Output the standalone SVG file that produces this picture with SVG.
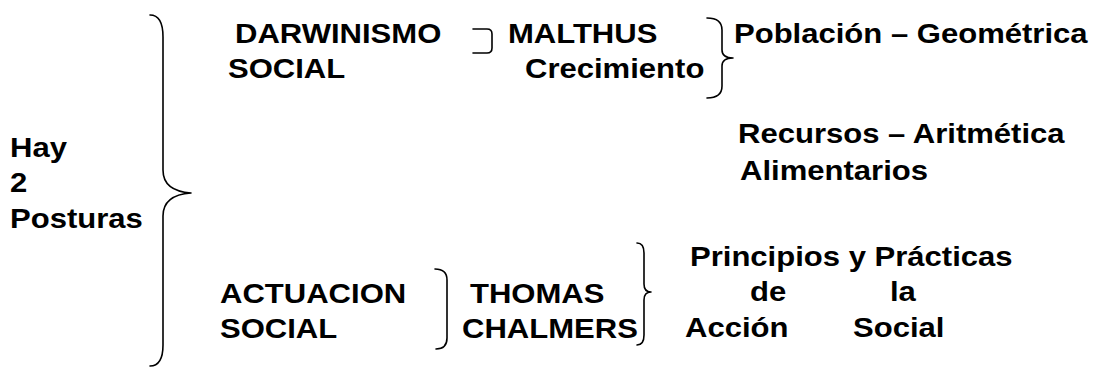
<svg xmlns="http://www.w3.org/2000/svg" width="1100" height="367" viewBox="0 0 1100 367">
<style>
.t{font-family:"Liberation Sans",Arial,sans-serif;font-weight:bold;font-size:27px;fill:#000}
.b{fill:none;stroke:#000;stroke-width:1.6;stroke-linecap:round;stroke-linejoin:round}
</style>
<rect width="1100" height="367" fill="#fff"/>
<g id="postura">
<text class="t" transform="translate(10,157) scale(1.15,1)">Hay</text>
<text class="t" transform="translate(10,192) scale(1.15,1)">2</text>
<text class="t" transform="translate(10,228) scale(1.15,1)">Posturas</text>
</g>
<g id="darwinismo">
<text class="t" transform="translate(235,43) scale(1.15,1)">DARWINISMO</text>
<text class="t" transform="translate(228,78) scale(1.15,1)">SOCIAL</text>
</g>
<g id="malthus">
<text class="t" transform="translate(508,43) scale(1.15,1)">MALTHUS</text>
<text class="t" transform="translate(525,78) scale(1.15,1)">Crecimiento</text>
</g>
<g id="poblacion">
<text class="t" transform="translate(734,43) scale(1.15,1)">Población – Geométrica</text>
</g>
<g id="recursos">
<text class="t" transform="translate(738,143) scale(1.15,1)">Recursos – Aritmética</text>
<text class="t" transform="translate(740,180) scale(1.15,1)">Alimentarios</text>
</g>
<g id="actuacion">
<text class="t" transform="translate(220,303) scale(1.15,1)">ACTUACION</text>
<text class="t" transform="translate(220,338) scale(1.15,1)">SOCIAL</text>
</g>
<g id="chalmers">
<text class="t" transform="translate(470,303) scale(1.15,1)">THOMAS</text>
<text class="t" transform="translate(462,338) scale(1.15,1)">CHALMERS</text>
</g>
<g id="principios">
<text class="t" transform="translate(690,266) scale(1.15,1)">Principios y Prácticas</text>
<text class="t" transform="translate(750,301) scale(1.15,1)">de</text>
<text class="t" transform="translate(890,301) scale(1.15,1)">la</text>
<text class="t" transform="translate(685,337) scale(1.15,1)">Acción</text>
<text class="t" transform="translate(853,337) scale(1.15,1)">Social</text>
</g>
<g id="connectors">
<path class="b" d="M150,15 Q163,15 163,37 L163,170 Q163,191 191,193 Q163,195 163,216 L163,345 Q163,366 150,366"/>
<path class="b" d="M473,29 L487,29 Q492,29 492,34 L492,48 Q492,53 487,53 L473,53"/>
<path class="b" d="M707,18 Q722,18 722,30 L722,50 Q722,58 733,58 Q722,58 722,66 L722,86 Q722,98 707,98"/>
<path class="b" d="M435,269 Q447,269 447,280 L447,338 Q447,349 436,349"/>
<path class="b" d="M637,243 Q644,243 644,253 L644,284 Q644,292 651,292 Q644,292 644,300 L644,335 Q644,345 637,345"/>
</g>
</svg>
